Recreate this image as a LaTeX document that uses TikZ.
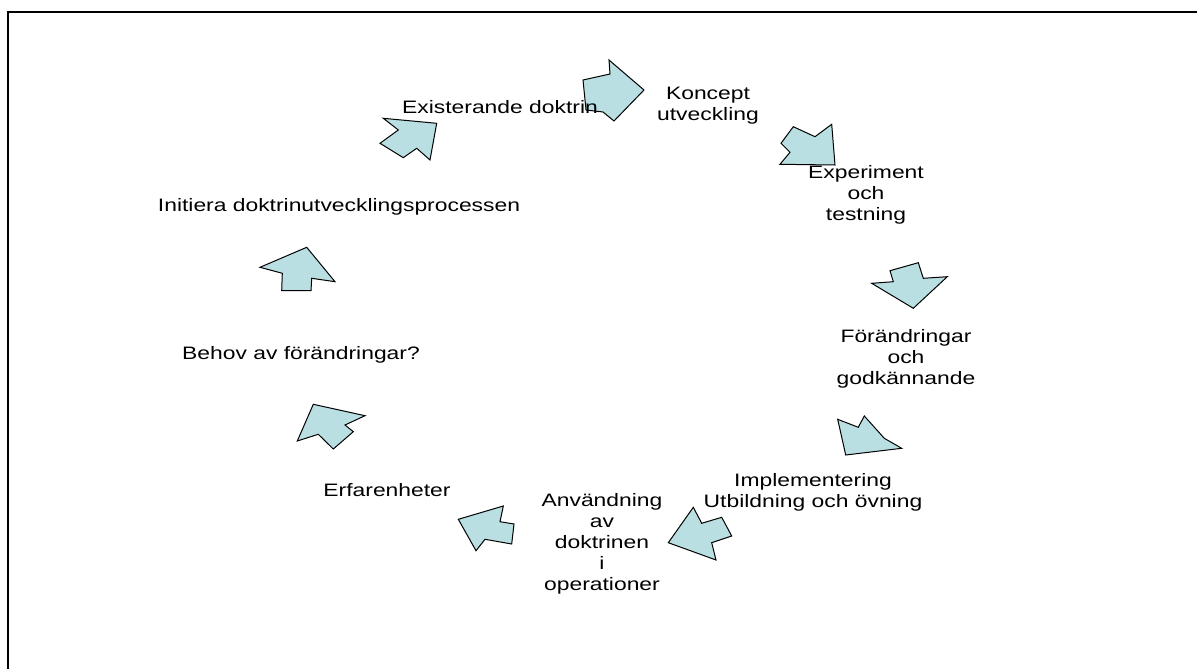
\documentclass[tikz,border=0pt]{standalone}
\usepackage{fontspec}
\setmainfont{Liberation Sans}[FakeStretch=1.27]
\definecolor{arrowfill}{RGB}{185,223,227}
\begin{document}
\begin{tikzpicture}[x=1pt,y=-1pt,
  flow/.style={fill=arrowfill,draw=black,line width=1pt,line join=miter},
  lbl/.style={align=center,inner sep=0pt,font=\fontsize{18}{21}\selectfont},
  frame/.style={line width=2.5pt}]
\useasboundingbox (0,0) rectangle (1197,669);
% open frame: top and left edges only
\draw[frame] (8,669) -- (8,12) -- (1197,12);

% cycle of block arrows
\filldraw[flow] (644,90) -- (609,60) -- (610,74) -- (583,80) -- (586,110) -- (603,112) -- (614,121) -- cycle;
\filldraw[flow] (815,136.7) -- (831.7,124.3) -- (835,165) -- (780,164.3) -- (790,152.3) -- (781,143.3) -- (793.3,126.7) -- cycle;
\filldraw[flow] (890,270.7) -- (918.3,262.7) -- (923.3,278.3) -- (947.3,276.7) -- (913.3,308.3) -- (871.7,283.3) -- (893.3,281.7) -- cycle;
\filldraw[flow] (864.3,416) -- (884.3,438.3) -- (901.7,448.3) -- (845.7,455) -- (837.7,419.3) -- (858.3,427.3) -- cycle;
\filldraw[flow] (693.3,507.3) -- (701.7,523.3) -- (721.7,517.3) -- (731.7,536) -- (711.7,542.7) -- (716,560) -- (668.3,542.7) -- cycle;
\filldraw[flow] (458.3,519.3) -- (503.3,506) -- (500,521.7) -- (514,524) -- (511.7,544) -- (485,539.3) -- (476,550.7) -- cycle;
\filldraw[flow] (313.3,404.3) -- (365,415.7) -- (345,425) -- (353.3,431.7) -- (333.3,449) -- (318.3,434.3) -- (297.3,441) -- cycle;
\filldraw[flow] (306.7,247.3) -- (335,281.7) -- (311.7,278.3) -- (311,290.7) -- (281.7,290.7) -- (282.3,273.3) -- (260,267.3) -- cycle;
\filldraw[flow] (436.7,123.3) -- (383.3,118.3) -- (398.3,130) -- (380,143.3) -- (403.3,157.7) -- (416.7,148.3) -- (430,160) -- cycle;

% stage labels
\node[lbl] (existing) at (500,107) {Existerande doktrin};
\node[lbl] (concept) at (708,106) {Koncept\\utveckling};
\node[lbl] (experiment) at (866,195) {Experiment\\och\\testning};
\node[lbl] (changes) at (906,359) {Förändringar\\och\\godkännande};
\node[lbl] (implement) at (813,492) {Implementering\\Utbildning och övning};
\node[lbl] (use) at (602,544) {Användning\\av\\doktrinen\\i\\operationer};
\node[lbl] (experience) at (387,490) {Erfarenheter};
\node[lbl] (need) at (301,355) {Behov av förändringar?};
\node[lbl] (initiate) at (339,207) {Initiera doktrinutvecklingsprocessen};
\end{tikzpicture}
\end{document}
